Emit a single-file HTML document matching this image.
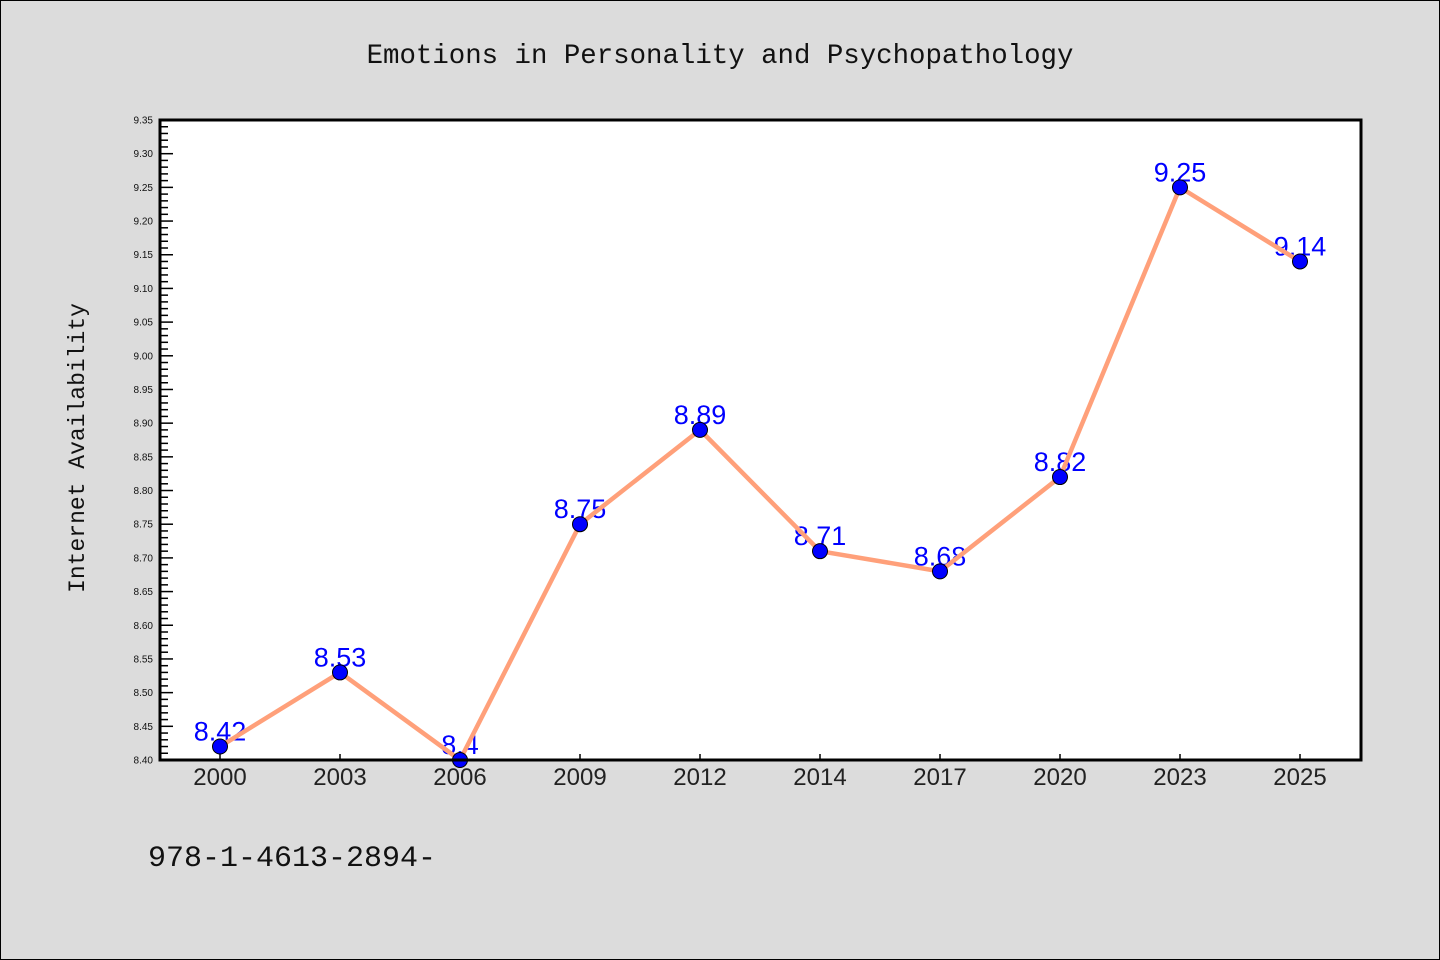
<!DOCTYPE html>
<html><head><meta charset="utf-8"><style>
html,body{margin:0;padding:0;background:#dcdcdc;}
svg{display:block;}
</style></head><body>
<svg id="c" width="1440" height="960" xmlns="http://www.w3.org/2000/svg">
<rect x="0.5" y="0.5" width="1439" height="959" fill="#dcdcdc" stroke="#000"/>
<text x="720" y="63" text-anchor="middle" font-family="Liberation Mono, monospace" font-size="27.4" fill="#111">Emotions in Personality and Psychopathology</text>
<text transform="translate(84,448) rotate(-90)" text-anchor="middle" font-family="Liberation Mono, monospace" font-size="23" fill="#111">Internet Availability</text>
<text x="148" y="866" font-family="Liberation Mono, monospace" font-size="30" fill="#111">978-1-4613-2894-</text>
<rect x="160" y="120" width="1201" height="640" fill="#fff"/>
<g id="ticks"></g>
<g id="labels"></g>
<g id="series"></g>
<rect x="160" y="120" width="1201" height="640" fill="none" stroke="#000" stroke-width="3"/>
</svg>
<script>
const categories=["2000","2003","2006","2009","2012","2014","2017","2020","2023","2025"];
const values=[8.42,8.53,8.40,8.75,8.89,8.71,8.68,8.82,9.25,9.14];
const valueLabels=["8.42","8.53","8.4","8.75","8.89","8.71","8.68","8.82","9.25","9.14"];
const yMin=8.40,yMax=9.35;
const NS="http://www.w3.org/2000/svg";
const L=160,R=1361,T=120,B=760;
function xs(i){return L+60+i*120;}
function ys(v){return B-(v-yMin)/(yMax-yMin)*(B-T);}
function mk(tag,attrs,parent){const e=document.createElementNS(NS,tag);for(const k in attrs)e.setAttribute(k,attrs[k]);parent.appendChild(e);return e;}
const tg=document.getElementById('ticks');
for(let k=0;k<=95;k++){
  const v=yMin+k*0.01,y=ys(v),major=k%5===0;
  const t=mk('line',{x1:L,x2:L+(major?13:8),y1:y,y2:y,stroke:'#000','stroke-width':1.5},tg);
  
  
  if(major){
    const tx=mk('text',{x:153,y:y+3.5,'text-anchor':'end','font-family':'Liberation Sans, sans-serif','font-size':10,fill:'#111'},tg);
    tx.textContent=v.toFixed(2);
    
    
  }
}
categories.forEach((c,i)=>{
  const x=xs(i);
  const t=mk('line',{x1:x,x2:x,y1:B,y2:B-6,stroke:'#000','stroke-width':1.5},tg);
  
  
  const tx=mk('text',{x:x,y:785,'text-anchor':'middle','font-family':'Liberation Sans, sans-serif','font-size':24,fill:'#222'},tg);
  tx.textContent=c;
  
  
});
const lg=document.getElementById('labels');
values.forEach((v,i)=>{
  const tx=mk('text',{x:xs(i),y:ys(v)-6,'text-anchor':'middle','font-family':'Liberation Sans, sans-serif','font-size':27,fill:'#0000ff'},lg);
  tx.textContent=valueLabels[i];
  
  
});
const sg=document.getElementById('series');
const pl=mk('polyline',{points:values.map((v,i)=>xs(i)+','+ys(v)).join(' '),fill:'none',stroke:'#ffa07a','stroke-width':4.5,'stroke-linejoin':'round'},sg);


values.forEach((v,i)=>{
  const c=mk('circle',{cx:xs(i),cy:ys(v),r:7.5,fill:'#0000ff',stroke:'#000','stroke-width':1},sg);
  
  
});
</script>
</body></html>
